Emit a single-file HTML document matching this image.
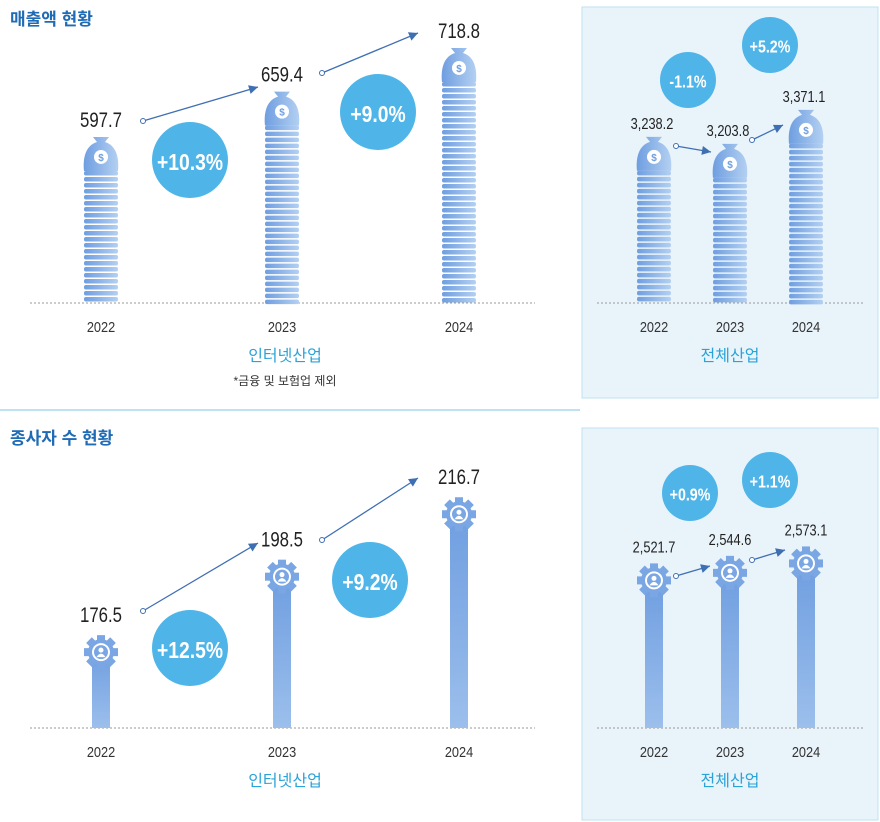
<!DOCTYPE html>
<html><head><meta charset="utf-8"><style>
body{margin:0;background:#fff;width:880px;height:822px;overflow:hidden;font-family:"Liberation Sans","Noto Sans CJK KR",sans-serif}
svg{position:absolute;left:0;top:0}
</style></head><body>
<svg id="c" width="880" height="822">
<defs>
<linearGradient id="g" x1="0" x2="1"><stop offset="0" stop-color="#6f9ee0"/><stop offset="1" stop-color="#b4d0f2"/></linearGradient>
<linearGradient id="gv" x1="0" x2="0" y1="0" y2="1"><stop offset="0" stop-color="#6f9ee0"/><stop offset="1" stop-color="#9cbfec"/></linearGradient>
</defs>
<rect x="582" y="7" width="296" height="391" fill="#e8f3fa" stroke="#bfe0f0"/>
<rect x="582" y="428" width="296" height="392" fill="#e8f3fa" stroke="#bfe0f0"/>
<line x1="0" y1="410" x2="580" y2="410" stroke="#7cc6e6"/>
<text x="10" y="25" font-size="17" font-weight="bold" fill="#1f6bb5">매출액 현황</text>
<text x="10" y="444" font-size="17" font-weight="bold" fill="#1f6bb5">종사자 수 현황</text>
</svg>
<script>
const years=['2022','2023','2024'];
const revInternet=[597.7,659.4,718.8];
const revTotal=[3238.2,3203.8,3371.1];
const empInternet=[176.5,198.5,216.7];
const empTotal=[2521.7,2544.6,2573.1];
const revInternetLabels=['597.7','659.4','718.8'];
const revTotalLabels=['3,238.2','3,203.8','3,371.1'];
const empInternetLabels=['176.5','198.5','216.7'];
const empTotalLabels=['2,521.7','2,544.6','2,573.1'];
const revInternetGrowth=['+10.3%','+9.0%'];
const revTotalGrowth=['-1.1%','+5.2%'];
const empInternetGrowth=['+12.5%','+9.2%'];
const empTotalGrowth=['+0.9%','+1.1%'];
const S=document.getElementById('c'),NS='http://www.w3.org/2000/svg';
function el(t,a,txt){const e=document.createElementNS(NS,t);for(const k in a)e.setAttribute(k,a[k]);if(txt!=null)e.textContent=txt;S.appendChild(e);return e;}
function cond(x,s){return `translate(${x} 0) scale(${s} 1) translate(${-x} 0)`;}
function lin(d0,k,base){return v=>base-(v-d0)*k;}
function panel(o){
  const y=lin(o.d0,o.k,o.base);
  const line=el('line',{x1:o.x0,x2:o.x1,y1:o.base,y2:o.base,stroke:'#999','stroke-dasharray':'2,2'});
  
  o.vals.forEach((v,i)=>{
    const cx=o.xs[i],top=y(v);
    const g=el('g',{});
    
    if(o.type==='coin'){
      const w=34,bodyTop=top+22;
      for(let yy=bodyTop;yy<o.base-2;yy+=6){
        const r=document.createElementNS(NS,'rect');
        Object.entries({x:cx-w/2,y:yy,width:w,height:4.5,rx:2,fill:'url(#g)'}).forEach(([a,b])=>r.setAttribute(a,b));g.appendChild(r);
      }
      const b=document.createElementNS(NS,'path');
      b.setAttribute('d',`M${cx-4},${top+5} L${cx-8},${top} L${cx+8},${top} L${cx+4},${top+5} C${cx+17},${top+9} ${cx+18},${top+24} ${cx+17},${top+34} L${cx-17},${top+34} C${cx-18},${top+24} ${cx-17},${top+9} ${cx-4},${top+5}Z`);
      b.setAttribute('fill','url(#g)');g.appendChild(b);
      const c=document.createElementNS(NS,'circle');c.setAttribute('cx',cx);c.setAttribute('cy',top+20);c.setAttribute('r',7);c.setAttribute('fill','#fff');g.appendChild(c);
      const t=document.createElementNS(NS,'text');t.setAttribute('x',cx);t.setAttribute('y',top+24);t.setAttribute('font-size',10);t.setAttribute('text-anchor','middle');t.setAttribute('fill','#6f9ee0');t.setAttribute('font-weight','bold');t.textContent='$';g.appendChild(t);
    }else{
      const r=document.createElementNS(NS,'rect');
      Object.entries({x:cx-9,y:top+14,width:18,height:o.base-top-14,fill:'url(#gv)'}).forEach(([a,b])=>r.setAttribute(a,b));g.appendChild(r);
      const gc=top+14;
      for(let a=0;a<8;a++){const t=document.createElementNS(NS,'rect');
        Object.entries({x:cx-4,y:gc-17,width:8,height:8,fill:'#7aa6e4',transform:`rotate(${a*45} ${cx} ${gc})`}).forEach(([k,vv])=>t.setAttribute(k,vv));g.appendChild(t);}
      [[13,'#7aa6e4'],[9,'#fff'],[7,'#7aa6e4']].forEach(([rr,f])=>{const c=document.createElementNS(NS,'circle');c.setAttribute('cx',cx);c.setAttribute('cy',gc);c.setAttribute('r',rr);c.setAttribute('fill',f);g.appendChild(c);});
      const h=document.createElementNS(NS,'circle');h.setAttribute('cx',cx);h.setAttribute('cy',gc-2);h.setAttribute('r',2.5);h.setAttribute('fill','#fff');g.appendChild(h);
      const bd=document.createElementNS(NS,'path');bd.setAttribute('d',`M${cx-4.5},${gc+5} Q${cx},${gc-2} ${cx+4.5},${gc+5}Z`);bd.setAttribute('fill','#fff');g.appendChild(bd);
    }
    const lx=cx+o.lx;
    const lb=el('text',{x:lx,y:top-o.ly,'font-size':o.fs,'text-anchor':'middle',fill:'#222',transform:cond(lx,0.8)},o.labels[i]);
    
    const yl=el('text',{x:cx,y:o.base+29,'font-size':15,'text-anchor':'middle',fill:'#333',transform:cond(cx,0.85)},years[i]);
    
  });
  o.arrows.forEach((a,i)=>{
    const g=el('g',{});
    const x1=a[0],y1=a[1],x2=a[2],y2=a[3];
    const l=document.createElementNS(NS,'line');Object.entries({x1,y1,x2,y2,stroke:'#3f6fb3','stroke-width':1.3}).forEach(([k,v])=>l.setAttribute(k,v));g.appendChild(l);
    const c=document.createElementNS(NS,'circle');Object.entries({cx:x1,cy:y1,r:2.5,fill:'#fff',stroke:'#3f6fb3'}).forEach(([k,v])=>c.setAttribute(k,v));g.appendChild(c);
    const ang=Math.atan2(y2-y1,x2-x1),L=9,W=4.5;
    const p=[[x2,y2],[x2-L*Math.cos(ang)+W*Math.sin(ang),y2-L*Math.sin(ang)-W*Math.cos(ang)],[x2-L*Math.cos(ang)-W*Math.sin(ang),y2-L*Math.sin(ang)+W*Math.cos(ang)]];
    const pg=document.createElementNS(NS,'polygon');pg.setAttribute('points',p.map(q=>q.join(',')).join(' '));pg.setAttribute('fill','#3f6fb3');g.appendChild(pg);
  });
  o.circles.forEach((c,i)=>{
    const ci=el('circle',{cx:c[0],cy:c[1],r:c[2],fill:'#4fb5e8'});
    
    const t=el('text',{x:c[0],y:c[1]+c[2]*0.26,'font-size':c[2]*0.62,'text-anchor':'middle',fill:'#fff','font-weight':'bold',transform:cond(c[0],0.82)},o.growth[i]);
    
  });
  const cap=el('text',{x:o.capx,y:o.base+58,'font-size':16,'text-anchor':'middle',fill:'#2aa3d8'},o.cap);
  
}
panel({id:'revenue-internet',type:'coin',vals:revInternet,labels:revInternetLabels,growth:revInternetGrowth,d0:371.8,k:0.735,base:303,xs:[101,282,459],x0:30,x1:535,lx:0,ly:10,fs:21,capx:285,cap:'인터넷산업',
 arrows:[[143,121,258,87],[322,73,418,33]],circles:[[190,160,38],[378,112,38]]});
panel({id:'revenue-total',type:'coin',vals:revTotal,labels:revTotalLabels,growth:revTotalGrowth,d0:2420,k:0.203,base:303,xs:[654,730,806],x0:597,x1:865,lx:-2,ly:8,fs:16,capx:730,cap:'전체산업',
 arrows:[[676,146,711,152],[752,140,783,125]],circles:[[688,80,28],[770,45,28]]});
panel({id:'employee-internet',type:'gear',vals:empInternet,labels:empInternetLabels,growth:empInternetGrowth,d0:150.3,k:3.43,base:728,xs:[101,282,459],x0:30,x1:535,lx:0,ly:16,fs:21,capx:285,cap:'인터넷산업',
 arrows:[[143,611,258,543],[322,540,418,478]],circles:[[190,648,38],[370,580,38]]});
panel({id:'employee-total',type:'gear',vals:empTotal,labels:empTotalLabels,growth:empTotalGrowth,d0:2032,k:0.33,base:728,xs:[654,730,806],x0:597,x1:865,lx:0,ly:14,fs:16,capx:730,cap:'전체산업',
 arrows:[[676,576,710,566],[752,560,785,550]],circles:[[690,493,28],[770,480,28]]});
const n=el('text',{x:285,y:385,'font-size':12,'text-anchor':'middle',fill:'#333'},'*금융 및 보험업 제외');


</script>
</body></html>
